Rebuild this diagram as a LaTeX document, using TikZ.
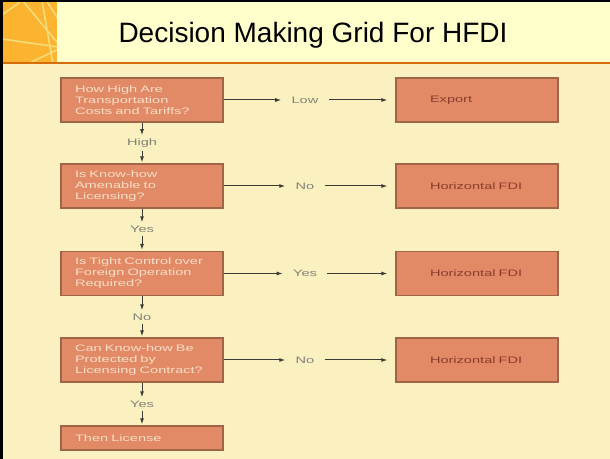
\documentclass[tikz,border=0pt]{standalone}
\usepackage{fontspec}
\setmainfont{Liberation Sans}
\newfontfamily\boxfont[FakeStretch=1.55]{Liberation Sans}
\usetikzlibrary{arrows.meta}

\definecolor{bodybg}{RGB}{251,241,192}
\definecolor{titlebg}{RGB}{255,255,204}
\definecolor{cornerbg}{RGB}{252,180,48}
\definecolor{cornerln}{RGB}{244,220,120}
\definecolor{rulecol}{RGB}{214,108,10}
\definecolor{boxfill}{RGB}{226,138,102}
\definecolor{boxline}{RGB}{160,100,70}
\definecolor{qtext}{RGB}{248,222,200}
\definecolor{atext}{RGB}{140,60,45}
\definecolor{lbltext}{RGB}{130,130,120}
\definecolor{arrowcol}{RGB}{60,60,55}

\begin{document}
\begin{tikzpicture}[x=0.5pt, y=-0.5pt,
    qbox/.style={draw=boxline, line width=0.6pt, fill=boxfill, text=qtext,
        font={\boxfont\fontsize{4.7pt}{5.5pt}\selectfont},
        text width=67pt, align=left, inner xsep=7pt, inner ysep=0pt,
        minimum width=81pt, minimum height=22pt},
    abox/.style={qbox, text=atext, text width=47pt, inner xsep=17pt},
    lbl/.style={text=lbltext, font={\boxfont\fontsize{4.7pt}{5.5pt}\selectfont}, inner sep=0pt},
    arrow/.style={-{Latex[length=3pt,width=2pt]}, arrowcol, line width=0.5pt}
]
\useasboundingbox (0,0) rectangle (610,459);

% slide frame
\fill[bodybg] (0,0) rectangle (610,459);
\fill[titlebg] (57,0) rectangle (610,63);
\fill[cornerbg] (0,0) rectangle (57,63);
\begin{scope}
  \clip (3,3) rectangle (57,63);
  \draw[cornerln, line width=0.8pt] (18,-5) -- (65,52);
  \draw[cornerln, line width=0.8pt] (41,-5) -- (54,70);
  \draw[cornerln, line width=0.8pt] (46,0) -- (62,25);
  \draw[cornerln, line width=0.8pt] (-5,38) -- (65,48);
  \draw[cornerln, line width=0.8pt] (15,70) -- (65,46);
  \draw[cornerln, line width=0.8pt] (-5,20) -- (30,-5);
\end{scope}
\fill[rulecol] (0,62.5) rectangle (610,64.5);
\fill[black] (0,0) rectangle (610,2.5);
\fill[black] (0,0) rectangle (3,459);

\node[font={\fontsize{14pt}{16pt}\selectfont}, inner sep=0pt] (title) at (313,35)
    {Decision Making Grid For HFDI};

% questions
\node[qbox] (q1) at (142,100) {How High Are\\Transportation\\Costs and Tariffs?};
\node[qbox] (q2) at (142,186) {Is Know-how\\Amenable to\\Licensing?};
\node[qbox] (q3) at (142,273.5) {Is Tight Control over\\Foreign Operation\\Required?};
\node[qbox] (q4) at (142,360) {Can Know-how Be\\Protected by\\Licensing Contract?};
\node[qbox, minimum height=12pt] (q5) at (142,438) {Then License};

% outcomes
\node[abox] (a1) at (477,100) {Export};
\node[abox] (a2) at (477,186) {Horizontal FDI};
\node[abox] (a3) at (477,273.5) {Horizontal FDI};
\node[abox] (a4) at (477,360) {Horizontal FDI};

% answers
\node[lbl] (h1) at (305,100) {Low};
\node[lbl] (h2) at (305,186) {No};
\node[lbl] (h3) at (305,273.5) {Yes};
\node[lbl] (h4) at (305,360) {No};
\node[lbl] (v1) at (142,143) {High};
\node[lbl] (v2) at (142,229) {Yes};
\node[lbl] (v3) at (142,317) {No};
\node[lbl] (v4) at (142,404) {Yes};

\foreach \i in {1,...,4} {
  \draw[arrow, shorten >=5pt] (q\i.east) -- (h\i.west);
  \draw[arrow, shorten <=5pt, shorten >=4pt] (h\i.east) -- (a\i.west);
}
\foreach \i/\j in {1/2,2/3,3/4,4/5} {
  \draw[arrow, shorten >=1.5pt] (q\i.south) -- (v\i.north);
  \draw[arrow, shorten <=1.5pt, shorten >=0.5pt] (v\i.south) -- (q\j.north);
}
\end{tikzpicture}
\end{document}
